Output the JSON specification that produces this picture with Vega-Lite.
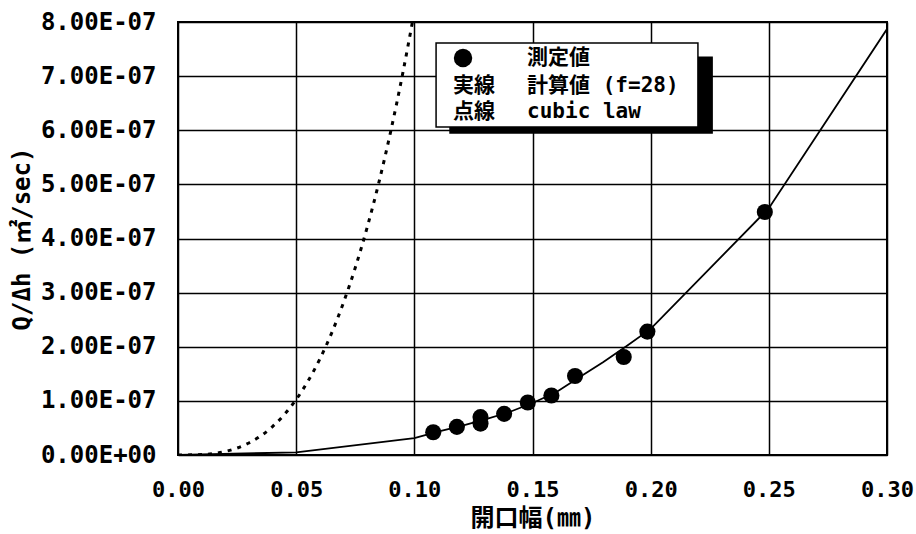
{
  "$schema": "https://vega.github.io/schema/vega-lite/v6.json",
  "width": 709,
  "height": 433,
  "autosize": "none",
  "padding": {"left": 178, "top": 22, "right": 29, "bottom": 79},
  "background": "white",
  "config": {
    "view": {"stroke": "black", "strokeWidth": 2},
    "axis": {
      "domain": false,
      "ticks": false,
      "grid": true,
      "gridColor": "black",
      "gridOpacity": 1,
      "gridWidth": 1.5,
      "labelFont": "DejaVu Sans Mono",
      "labelFontWeight": "bold",
      "labelColor": "black",
      "titleFont": "DejaVu Sans Mono, Noto Sans CJK JP",
      "titleFontWeight": "bold",
      "titleColor": "black"
    }
  },
  "datasets": {
    "cubic": [
      {"x": 0, "y": 0},
      {"x": 0.01, "y": 8.2e-10},
      {"x": 0.015, "y": 2.77e-9},
      {"x": 0.02, "y": 6.56e-9},
      {"x": 0.025, "y": 1.281e-8},
      {"x": 0.03, "y": 2.214e-8},
      {"x": 0.035, "y": 3.516e-8},
      {"x": 0.04, "y": 5.248e-8},
      {"x": 0.045, "y": 7.472e-8},
      {"x": 0.05, "y": 1.025e-7},
      {"x": 0.055, "y": 1.3643e-7},
      {"x": 0.06, "y": 1.7712e-7},
      {"x": 0.065, "y": 2.2519e-7},
      {"x": 0.07, "y": 2.8126e-7},
      {"x": 0.075, "y": 3.4594e-7},
      {"x": 0.08, "y": 4.1984e-7},
      {"x": 0.085, "y": 5.0358e-7},
      {"x": 0.09, "y": 5.9778e-7},
      {"x": 0.095, "y": 7.0305e-7},
      {"x": 0.0992, "y": 8.0e-7}
    ],
    "calc": [
      {"x": 0, "y": 0},
      {"x": 0.05, "y": 5e-9},
      {"x": 0.10, "y": 3.1e-8},
      {"x": 0.11, "y": 4.3e-8},
      {"x": 0.12, "y": 5.4e-8},
      {"x": 0.13, "y": 6.6e-8},
      {"x": 0.14, "y": 7.9e-8},
      {"x": 0.15, "y": 9.6e-8},
      {"x": 0.16, "y": 1.16e-7},
      {"x": 0.17, "y": 1.44e-7},
      {"x": 0.18, "y": 1.72e-7},
      {"x": 0.19, "y": 2.02e-7},
      {"x": 0.20, "y": 2.33e-7},
      {"x": 0.25, "y": 4.56e-7},
      {"x": 0.30, "y": 7.87e-7}
    ],
    "meas": [
      {"x": 0.108, "y": 4.2e-8},
      {"x": 0.118, "y": 5.2e-8},
      {"x": 0.128, "y": 5.8e-8},
      {"x": 0.128, "y": 7.0e-8},
      {"x": 0.138, "y": 7.6e-8},
      {"x": 0.148, "y": 9.7e-8},
      {"x": 0.158, "y": 1.1e-7},
      {"x": 0.168, "y": 1.46e-7},
      {"x": 0.1886, "y": 1.81e-7},
      {"x": 0.1986, "y": 2.28e-7},
      {"x": 0.2483, "y": 4.49e-7}
    ],
    "legendBox": [
      {"part": "shadow", "x0": 0.1151, "x1": 0.226, "y0": 7.35e-7, "y1": 5.95e-7},
      {"part": "box", "x0": 0.1092, "x1": 0.22, "y0": 7.61e-7, "y1": 6.06e-7}
    ],
    "legendText": [
      {"row": 2, "col": 1, "label": "実線", "lx": 0.1164, "ly": 6.82e-7},
      {"row": 3, "col": 1, "label": "点線", "lx": 0.1164, "ly": 6.34e-7},
      {"row": 1, "col": 2, "label": "測定値", "lx": 0.1477, "ly": 7.335e-7},
      {"row": 2, "col": 2, "label": "計算値 (f=28)", "lx": 0.1477, "ly": 6.82e-7},
      {"row": 3, "col": 2, "label": "cubic law", "lx": 0.1477, "ly": 6.34e-7}
    ],
    "legendDot": [
      {"lx": 0.1206, "ly": 7.335e-7}
    ]
  },
  "layer": [
    {
      "data": {"name": "cubic"},
      "mark": {"type": "line", "color": "black", "strokeWidth": 3, "strokeDash": [4, 6], "interpolate": "monotone", "clip": true},
      "encoding": {
        "x": {
          "field": "x", "type": "quantitative",
          "scale": {"domain": [0, 0.3], "nice": false, "zero": false},
          "axis": {"values": [0, 0.05, 0.1, 0.15, 0.2, 0.25, 0.3], "format": ".2f", "labelFlush": false, "labelFontSize": 22, "labelPadding": 24, "title": "開口幅(㎜)", "titleFontSize": 24, "titlePadding": 6}
        },
        "y": {
          "field": "y", "type": "quantitative",
          "scale": {"domain": [0, 8e-7], "nice": false, "zero": false},
          "axis": {
            "values": [0, 1e-7, 2e-7, 3e-7, 4e-7, 5e-7, 6e-7, 7e-7, 8e-7],
            "labelExpr": "datum.value == 0 ? '0.00E+00' : format(datum.value * 1e7, '.2f') + 'E-07'",
            "labelFontSize": 24,
            "labelFlush": false,
            "labelPadding": 22,
            "title": "Q/Δh (㎡/sec)",
            "titleFontSize": 24,
            "titlePadding": 6
          }
        }
      }
    },
    {
      "data": {"name": "calc"},
      "mark": {"type": "line", "color": "black", "strokeWidth": 1.8, "clip": true},
      "encoding": {
        "x": {"field": "x", "type": "quantitative"},
        "y": {"field": "y", "type": "quantitative"}
      }
    },
    {
      "data": {"name": "meas"},
      "mark": {"type": "point", "shape": "circle", "filled": true, "color": "black", "opacity": 1, "size": 260},
      "encoding": {
        "x": {"field": "x", "type": "quantitative"},
        "y": {"field": "y", "type": "quantitative"}
      }
    },
    {
      "data": {"name": "legendBox"},
      "mark": {"type": "rect", "stroke": "black", "strokeWidth": 1.5},
      "encoding": {
        "x": {"field": "x0", "type": "quantitative"},
        "x2": {"field": "x1"},
        "y": {"field": "y0", "type": "quantitative"},
        "y2": {"field": "y1"},
        "fill": {"field": "part", "type": "nominal", "scale": {"domain": ["shadow", "box"], "range": ["black", "white"]}, "legend": null},
        "order": {"field": "part", "sort": "descending"}
      }
    },
    {
      "data": {"name": "legendDot"},
      "mark": {"type": "point", "shape": "circle", "filled": true, "color": "black", "opacity": 1, "size": 340},
      "encoding": {
        "x": {"field": "lx", "type": "quantitative"},
        "y": {"field": "ly", "type": "quantitative"}
      }
    },
    {
      "data": {"name": "legendText"},
      "mark": {"type": "text", "align": "left", "baseline": "middle", "font": "DejaVu Sans Mono, Noto Sans CJK JP", "fontSize": 21, "fontWeight": "bold", "color": "black"},
      "encoding": {
        "x": {"field": "lx", "type": "quantitative"},
        "y": {"field": "ly", "type": "quantitative"},
        "text": {"field": "label"}
      }
    }
  ]
}
